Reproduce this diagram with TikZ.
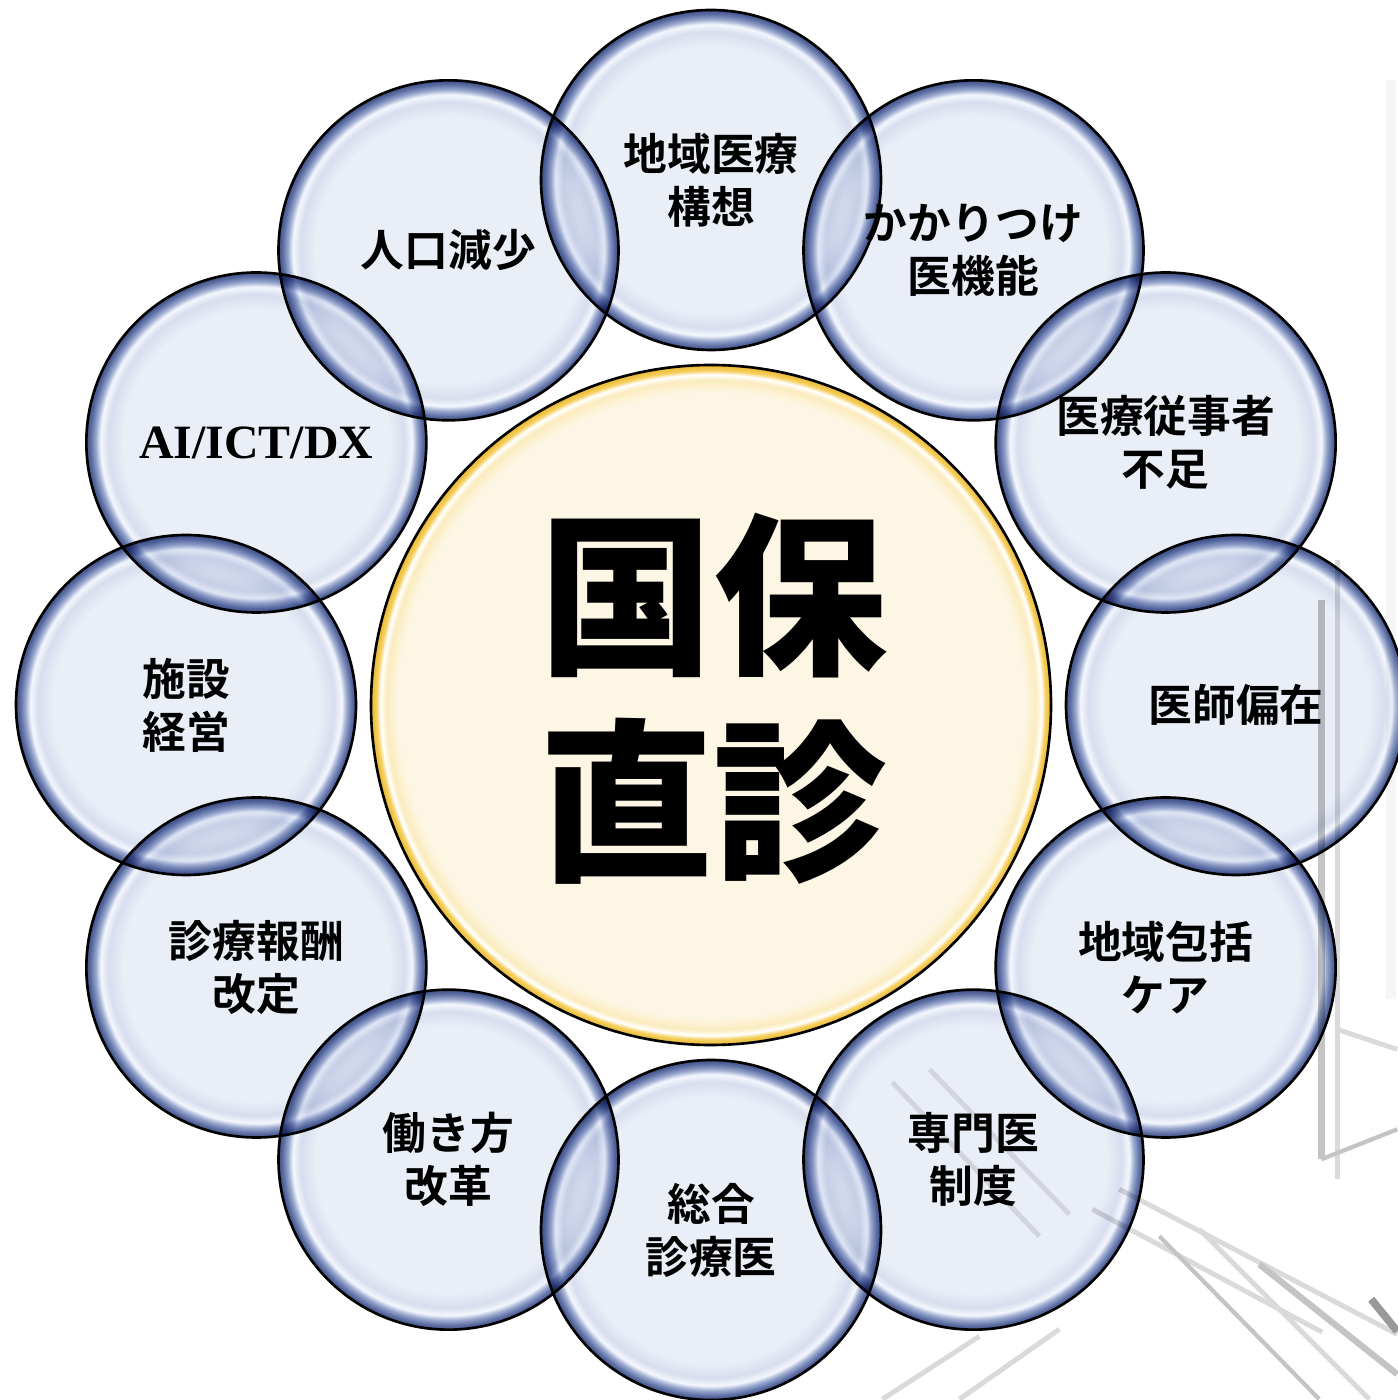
\documentclass[tikz,border=0pt]{standalone}
\usetikzlibrary{calc}
\usepackage{fontspec}
\newfontfamily\jp{Noto Sans CJK JP}[BoldFont={Noto Sans CJK JP Bold}]
\newfontfamily\jpblack{Noto Sans CJK JP Black}
\newfontfamily\ser{Liberation Serif}
\definecolor{bubin}{RGB}{234,238,247}
\definecolor{bubmid}{RGB}{216,222,238}
\definecolor{bubhi}{RGB}{244,247,253}
\definecolor{bubmidb}{RGB}{156,170,208}
\definecolor{bubedge}{RGB}{92,110,163}
\definecolor{bubedgeb}{RGB}{64,80,134}
\definecolor{crin}{RGB}{253,246,228}
\definecolor{crmid}{RGB}{251,236,190}
\definecolor{crgolda}{RGB}{245,208,96}
\definecolor{crgoldb}{RGB}{234,182,44}
\definecolor{bgline}{RGB}{218,218,218}
\definecolor{bglined}{RGB}{196,196,196}
\pgfdeclareradialshading{bubbleshade}{\pgfpoint{0bp}{0bp}}{%
 color(0bp)=(bubin); color(19.6bp)=(bubin); color(21.8bp)=(bubmid);
 color(22.9bp)=(bubhi); color(23.6bp)=(bubmidb); color(24.4bp)=(bubedge);
 color(25bp)=(bubedgeb); color(50bp)=(bubedgeb)}
\pgfdeclareradialshading{coreshade}{\pgfpoint{0bp}{0bp}}{%
 color(0bp)=(crin); color(23.0bp)=(crin); color(23.9bp)=(crmid);
 color(24.3bp)=(white); color(24.6bp)=(crgolda); color(25bp)=(crgoldb);
 color(50bp)=(crgoldb)}
\tikzset{
 bubble/.style={circle, draw=black, line width=0.75pt, minimum size=3.4cm,
   inner sep=0pt, shading=bubbleshade, align=center,
   font=\jp\bfseries\fontsize{12.45}{15.1}\selectfont},
 core/.style={circle, draw=black, line width=0.75pt, minimum size=6.8cm,
   inner sep=0pt, shading=coreshade},
 coretext/.style={align=center, font=\jpblack\fontsize{49.5}{58.6}\selectfont},
 bg/.style={draw=bgline, line width=1.4pt},
 bgd/.style={draw=bglined, line width=1.2pt}
}
\begin{document}
\begin{tikzpicture}
\useasboundingbox[fill=white] (0,0) rectangle (13.98,14.00);
% faint background photo lines (lower right)
\begin{scope}[x=0.01cm, y=-0.01cm, yshift=14cm]
 \draw[bg, draw=bgline!25, line width=3pt] (1392,80) -- (1392,1000);
 \draw[bgd, line width=2pt] (1322,600) -- (1322,1160);
 \draw[bg, line width=1.5pt] (1338,560) -- (1338,1180);
 \draw[bg] (1338,1030) -- (1398,1050);
 \draw[bgd] (1322,1160) -- (1398,1130);
 \draw[bg, draw=bgline!70] (893,1083) -- (1040,1237);
 \draw[bg, draw=bgline!70] (930,1070) -- (1070,1215);
 \draw[bg] (1093,1210) -- (1323,1333);
 \draw[bg] (1120,1190) -- (1398,1335);
 \draw[bgd] (1160,1237) -- (1320,1400);
 \draw[bg] (1200,1230) -- (1370,1400);
 \draw[bgd, line width=1.8pt] (1260,1265) -- (1398,1375);
 \draw[bg] (883,1400) -- (980,1337);
 \draw[bg] (960,1400) -- (1060,1330);
 \draw[bgd, line width=2.2pt, draw=black!40] (1372,1300) -- (1398,1332);
\end{scope}
\coordinate (C) at (7.11,6.95);
\begin{scope}[blend mode=multiply]
 \node[bubble] (b90)  at ($(C)+(90:5.25cm)$)   {地域医療\\構想};
 \node[bubble] (b60)  at ($(C)+(60:5.25cm)$)   {かかりつけ\\医機能};
 \node[bubble] (b30)  at ($(C)+(30:5.25cm)$)   {医療従事者\\不足};
 \node[bubble] (b0)   at ($(C)+(0:5.25cm)$)    {医師偏在};
 \node[bubble] (bm30) at ($(C)+(-30:5.25cm)$)  {地域包括\\ケア};
 \node[bubble] (bm60) at ($(C)+(-60:5.25cm)$)  {専門医\\制度};
 \node[bubble] (bm90) at ($(C)+(-90:5.25cm)$)  {総合\\診療医};
 \node[bubble] (bm120) at ($(C)+(-120:5.25cm)$) {働き方\\改革};
 \node[bubble] (bm150) at ($(C)+(-150:5.25cm)$) {診療報酬\\改定};
 \node[bubble] (b180) at ($(C)+(180:5.25cm)$)  {施設\\経営};
 \node[bubble, font=\ser\bfseries\fontsize{13.6}{16}\selectfont] (b150) at ($(C)+(150:5.25cm)$) {AI/ICT/DX};
 \node[bubble] (b120) at ($(C)+(120:5.25cm)$)  {人口減少};
\end{scope}
\node[core] (core) at (C) {};
\node[coretext] (title) at (7.13,7.01) {国保\\直診};
\end{tikzpicture}
\end{document}
